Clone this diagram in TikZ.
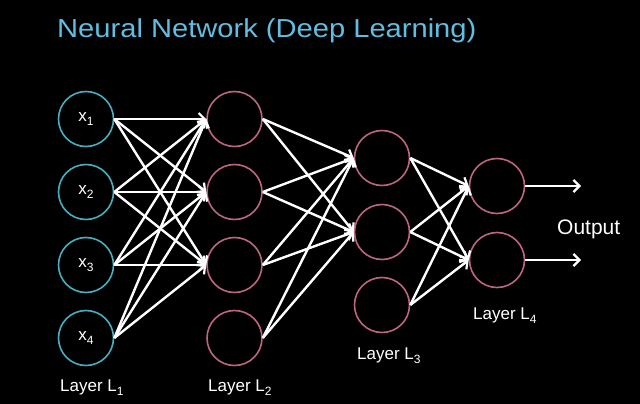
\documentclass[tikz,border=0pt]{standalone}
\usepackage{fontspec}
\setmainfont{Liberation Sans}
\usetikzlibrary{arrows.meta}
\definecolor{titlecol}{RGB}{95,190,225}
\definecolor{incol}{RGB}{70,175,192}
\definecolor{hidcol}{RGB}{190,100,132}
\newcommand\lowsub[1]{\raisebox{-4pt}{\fontsize{12}{14}\selectfont #1}}
\tikzset{
  neuron/.style={circle,draw,line width=1.6pt,minimum size=55pt,inner sep=0pt,font=\fontsize{17}{19}\selectfont,text=white},
  inneuron/.style={neuron,draw=incol},
  hidneuron/.style={neuron,draw=hidcol},
  conn/.style={draw=white,line width=2.4pt,-{Straight Barb[length=6pt,width=12pt,line width=2.2pt]}},
  layerlbl/.style={anchor=base west,text=white,font=\fontsize{17}{19}\selectfont,inner sep=0pt}
}
\begin{document}
\begin{tikzpicture}[x=1pt,y=-1pt]
\fill[black] (0,0) rectangle (640,404);
\useasboundingbox (0,0) rectangle (640,404);
\node[anchor=base west,inner sep=0pt,text=titlecol,font=\fontsize{26}{30}\selectfont,xscale=1.12] (title) at (57,38) {Neural Network (Deep Learning)};
% layer 1
\node[inneuron] (a1) at (86,119) {x\lowsub{1}};
\node[inneuron] (a2) at (86,192) {x\lowsub{2}};
\node[inneuron] (a3) at (86,265) {x\lowsub{3}};
\node[inneuron] (a4) at (86,338) {x\lowsub{4}};
% layer 2
\node[hidneuron] (b1) at (234.5,119) {};
\node[hidneuron] (b2) at (234.5,192) {};
\node[hidneuron] (b3) at (234.5,265) {};
\node[hidneuron] (b4) at (234.5,338) {};
% layer 3
\node[hidneuron] (c1) at (382,158) {};
\node[hidneuron] (c2) at (382,232) {};
\node[hidneuron] (c3) at (382,305) {};
% layer 4
\node[hidneuron] (d1) at (497,186) {};
\node[hidneuron] (d2) at (497,260) {};
% outputs
\coordinate (o1) at (581,186);
\coordinate (o2) at (581,260);
% connections
\foreach \i in {1,...,4}{\foreach \j in {1,2,3}{\draw[conn] (a\i.east) -- (b\j.west);}}
\foreach \i in {1,...,4}{\foreach \j in {1,2}{\draw[conn] (b\i.east) -- (c\j.west);}}
\foreach \i in {1,2,3}{\foreach \j in {1,2}{\draw[conn] (c\i.east) -- (d\j.west);}}
\draw[conn] (d1.east) -- (o1);
\draw[conn] (d2.east) -- (o2);
% labels
\node[layerlbl] (l1) at (60,391) {Layer L\lowsub{1}};
\node[layerlbl] (l2) at (208,391) {Layer L\lowsub{2}};
\node[layerlbl] (l3) at (357,359) {Layer L\lowsub{3}};
\node[layerlbl] (l4) at (473,319) {Layer L\lowsub{4}};
\node[anchor=base west,inner sep=0pt,text=white,font=\fontsize{21}{24}\selectfont] (out) at (557,234) {Output};
\end{tikzpicture}
\end{document}
